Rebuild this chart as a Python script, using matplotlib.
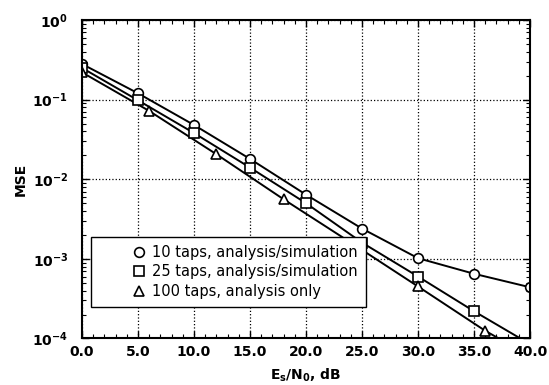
import numpy as np
import matplotlib
matplotlib.use('Agg')
import matplotlib.pyplot as plt
from matplotlib.ticker import MultipleLocator, FixedLocator, LogLocator, FuncFormatter, NullFormatter

plt.rcParams['font.family'] = 'DejaVu Sans'
plt.rcParams['mathtext.fontset'] = 'dejavusans'

# --- data ---
snr = [0, 5, 10, 15, 20, 25, 30, 35, 40]
mse_10 = [0.28, 0.12, 0.048, 0.018, 0.0064, 0.0024, 0.00102, 0.00065, 0.00044]
mse_25 = [0.25, 0.098, 0.038, 0.014, 0.005, 0.0016, 0.0006, 0.00022, 0.000085]

snr_25_sim = [0, 5, 10, 15, 20, 25, 30, 35]
mse_25_sim = [0.25, 0.098, 0.038, 0.014, 0.005, 0.0016, 0.0006, 0.00022]

snr_100 = [0, 6, 12, 18, 24, 30, 36, 40]
mse_100 = [0.22, 0.072, 0.0206, 0.0056, 0.0016, 0.00045, 0.000125, 0.00006]
snr_100_pts = [0, 6, 12, 18, 24, 30, 36]
mse_100_pts = [0.22, 0.072, 0.0206, 0.0056, 0.0016, 0.00045, 0.000125]

labels = ['10 taps, analysis/simulation',
          '25 taps, analysis/simulation',
          '100 taps, analysis only']

fig = plt.figure(figsize=(5.49, 3.85), dpi=100)
ax = fig.add_axes([0.1494, 0.1208, 0.8160, 0.8273])

lw = 1.4
mk = dict(markersize=7, markerfacecolor='white', markeredgecolor='black',
          markeredgewidth=1.2, linestyle='none')

ax.plot(snr, mse_10, color='black', lw=lw)
ax.plot(snr, mse_25, color='black', lw=lw)
ax.plot(snr_100, mse_100, color='black', lw=lw)

h1, = ax.plot(snr, mse_10, marker='o', **mk)
h2, = ax.plot(snr_25_sim, mse_25_sim, marker='s', **mk)
h3, = ax.plot(snr_100_pts, mse_100_pts, marker='^', **mk)

ax.set_yscale('log')
ax.set_xlim(0, 40)
ax.set_ylim(1e-4, 1)

ax.xaxis.set_major_locator(MultipleLocator(5))
ax.xaxis.set_minor_locator(MultipleLocator(1))
ax.xaxis.set_major_formatter(FuncFormatter(lambda v, p: f'{v:.1f}'))
ax.yaxis.set_major_locator(FixedLocator([1e-4, 1e-3, 1e-2, 1e-1, 1]))
ax.yaxis.set_minor_locator(LogLocator(base=10, subs=np.arange(2, 10)))
ax.yaxis.set_minor_formatter(NullFormatter())
ax.yaxis.set_major_formatter(FuncFormatter(
    lambda v, p: r'$\mathbf{10^{%d}}$' % int(round(np.log10(v)))))

ax.tick_params(which='both', direction='in', top=True, right=True, colors='black')
ax.tick_params(which='major', length=5, width=1.0, labelsize=10)
ax.tick_params(which='minor', length=3, width=0.8)
ax.tick_params(axis='y', which='major', pad=10)
ax.tick_params(axis='x', which='major', pad=5)
for lab in ax.get_xticklabels():
    lab.set_fontweight('bold')

for s in ax.spines.values():
    s.set_linewidth(1.5)

ax.grid(True, which='major', linestyle=':', color='black', linewidth=0.9)

ax.set_xlabel(r'$\mathbf{E_s/N_0}$, dB', fontsize=10, fontweight='bold', labelpad=5)
ax.set_ylabel('MSE', fontsize=10, fontweight='bold', labelpad=3)

leg = ax.legend([h1, h2, h3], labels, loc='upper left',
                bbox_to_anchor=(0.02, 0.319), borderaxespad=0,
                fontsize=10.5, handlelength=5.5, handletextpad=-1.85,
                borderpad=0.55, labelspacing=0.3, fancybox=False,
                framealpha=1, edgecolor='black')
leg.get_frame().set_linewidth(1.0)

fig.savefig('out.png', dpi=100)
